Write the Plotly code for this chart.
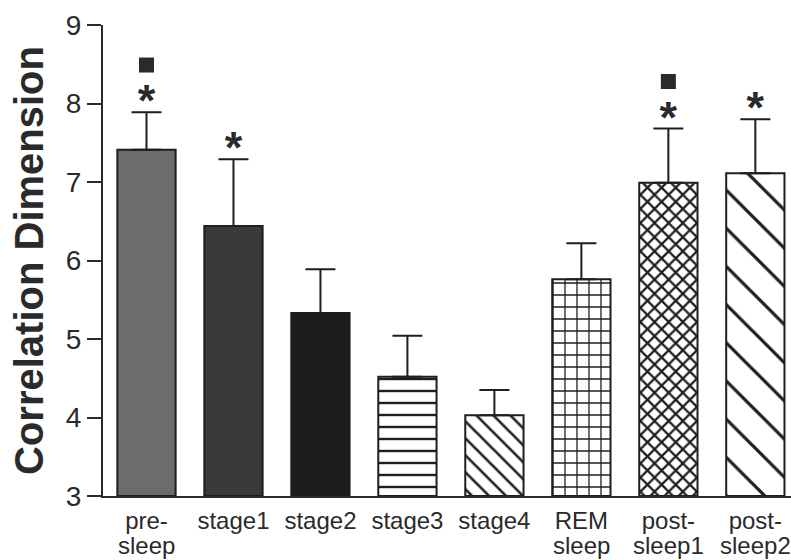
import plotly.graph_objects as go

categories = ["pre-<br>sleep", "stage1", "stage2", "stage3", "stage4",
              "REM<br>sleep", "post-<br>sleep1", "post-<br>sleep2"]
means = [7.41, 6.44, 5.33, 4.52, 4.03, 5.76, 6.99, 7.11]
sem = [0.48, 0.85, 0.56, 0.52, 0.32, 0.46, 0.69, 0.69]
asterisk = [True, True, False, False, False, False, True, True]
square = [True, False, False, False, False, False, True, False]

fill_colors = ["#6c6c6c", "#3a3a3a", "#1c1c1c", "white", "white", "white", "white", "white"]
pattern_shapes = ["", "", "", "-", "\\", "+", "x", "\\"]
pattern_sizes = [8, 8, 8, 12, 12, 12, 10, 27]
pattern_solid = [0.2, 0.2, 0.2, 0.2, 0.22, 0.2, 0.4, 0.12]

INK = "#1e1e1e"
TXT = "#2a2a2a"
fig = go.Figure()
for i, cat in enumerate(categories):
    pat = dict(shape=pattern_shapes[i], size=pattern_sizes[i],
               solidity=pattern_solid[i], fgcolor=INK, fgopacity=1,
               fillmode="overlay")
    fig.add_trace(go.Bar(
        x=[cat], y=[means[i] - 3], base=3,
        marker=dict(color=fill_colors[i],
                    line=dict(color=INK, width=2),
                    pattern=pat),
        error_y=dict(type="data", symmetric=False, array=[sem[i]],
                     arrayminus=[0], color=INK, thickness=2, width=15),
        width=0.67, showlegend=False,
    ))

ast_x = [c for c, a in zip(categories, asterisk) if a]
ast_y = [m + s + 0.09 for m, s, a in zip(means, sem, asterisk) if a]
fig.add_trace(go.Scatter(
    x=ast_x, y=ast_y, mode="text", text=["<b>*</b>"] * len(ast_x),
    textposition="middle center",
    textfont=dict(size=45, color=TXT, family="Liberation Sans"),
    showlegend=False, cliponaxis=False,
))
sq_x = [c for c, q in zip(categories, square) if q]
sq_y = [m + s + 0.6 for m, s, q in zip(means, sem, square) if q]
fig.add_trace(go.Scatter(
    x=sq_x, y=sq_y, mode="markers",
    marker=dict(symbol="square", size=15, color=TXT),
    showlegend=False, cliponaxis=False,
))

# x labels: first line as tick text, second line as annotation (tighter spacing)
first_lines = [c.split("<br>")[0] for c in categories]
for c in categories:
    parts = c.split("<br>")
    if len(parts) > 1:
        fig.add_annotation(x=c, xref="x", y=-0.074, yref="paper",
                           yanchor="top", text=parts[1], showarrow=False,
                           borderpad=0,
                           font=dict(size=24, color=TXT))

fig.update_layout(
    width=791, height=560,
    margin=dict(l=103, r=0, t=25, b=64, autoexpand=False),
    paper_bgcolor="white", plot_bgcolor="white",
    font=dict(family="Liberation Sans, Arial", color=TXT),
    barmode="overlay",
)
fig.update_xaxes(
    range=[-0.5, 7.41], showgrid=False, showline=True,
    linecolor=TXT, linewidth=2, automargin=False,
    tickmode="array", tickvals=categories, ticktext=first_lines,
    ticks="", ticklabelstandoff=2,
    tickfont=dict(size=24, color=TXT),
)
fig.update_yaxes(
    range=[3, 9], showgrid=False, zeroline=False, showline=True,
    linecolor=TXT, linewidth=2, automargin=False,
    ticks="outside", ticklen=14, tickwidth=2, tickcolor=TXT,
    dtick=1, tickfont=dict(size=28, color=TXT),
    title=dict(text="<b>Correlation Dimension</b>",
               font=dict(size=40, color=TXT), standoff=10),
)

fig.write_html("out.html")
